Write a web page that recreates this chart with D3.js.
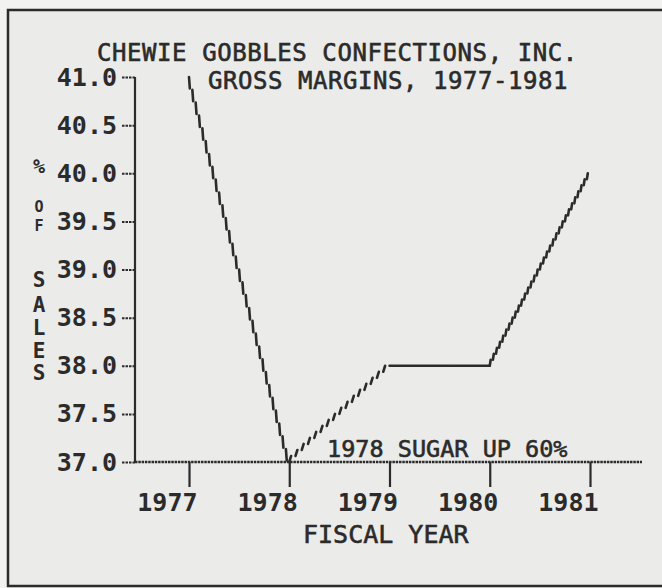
<!DOCTYPE html>
<html>
<head>
<meta charset="utf-8">
<script src="https://cdn.jsdelivr.net/npm/d3@7"></script>
<style>
  html, body { margin: 0; padding: 0; background: #f2f2f1; }
  svg { display: block; }
  text { font-family: "DejaVu Sans Mono", "Liberation Mono", monospace; fill: #2b2b2b; }
</style>
</head>
<body>
<svg id="chart" width="662" height="588"></svg>
<script>
// Gross margin, % of sales, by fiscal year
const years = [1977, 1978, 1979, 1980, 1981];
const margins = [41.0, 37.0, 38.0, 38.0, 40.0];
const yTickValues = [37.0, 37.5, 38.0, 38.5, 39.0, 39.5, 40.0, 40.5, 41.0];
const titleLines = ["CHEWIE GOBBLES CONFECTIONS, INC.", "GROSS MARGINS, 1977-1981"];
const xTitle = "FISCAL YEAR";
const yTitleChars = ["%", "O", "F", "S", "A", "L", "E", "S"];
const note = "1978 SUGAR UP 60%";

const ink = "#2b2b2b";
const svg = d3.select("#chart");

// framed panel
svg.append("rect")
  .attr("x", 8).attr("y", 10).attr("width", 720).attr("height", 576)
  .attr("fill", "#ebebea").attr("stroke", ink).attr("stroke-width", 2.5);

const x = d3.scaleLinear().domain([1977, 1981]).range([189, 590]);
const y = d3.scaleLinear().domain([37, 41]).range([462, 77]);
const axisX = 135;
const axisEnd = 642;

// title, set on a fixed character pitch
const pitch = 15.1;
svg.append("g").selectAll("text")
  .data(titleLines)
  .join("text")
  .attr("x", (d, i) => i === 0 ? 97 : 208)
  .attr("y", (d, i) => i === 0 ? 61 : 89)
  .attr("font-size", 24)
  .attr("textLength", d => d.length * pitch - 3)
  .attr("lengthAdjust", "spacing")
  .attr("stroke", ink).attr("stroke-width", 0.6)
  .text(d => d);

// y axis
const yAxis = svg.append("g")
  .attr("transform", `translate(${axisX},0)`)
  .call(d3.axisLeft(y).tickValues(yTickValues).tickFormat(d3.format(".1f"))
    .tickSize(14).tickPadding(4));
yAxis.select(".domain").remove();
yAxis.selectAll(".tick line").attr("stroke", ink).attr("stroke-width", 2)
  .attr("stroke-dasharray", "2.5,1");
yAxis.selectAll(".tick text")
  .attr("font-size", 25).attr("font-weight", "bold")
  .attr("font-family", "DejaVu Sans Mono").attr("fill", ink);
svg.append("line")
  .attr("x1", axisX).attr("x2", axisX)
  .attr("y1", y(41)).attr("y2", y(37))
  .attr("stroke", ink).attr("stroke-width", 2.2);

// x axis
const xAxis = svg.append("g")
  .attr("transform", `translate(0,${y(37)})`)
  .call(d3.axisBottom(x).tickValues(years).tickFormat(d3.format("d"))
    .tickSize(25).tickPadding(0));
xAxis.select(".domain").remove();
xAxis.selectAll(".tick line").attr("stroke", ink).attr("stroke-width", 2.2);
xAxis.selectAll(".tick text")
  .attr("font-size", 25).attr("font-weight", "bold")
  .attr("font-family", "DejaVu Sans Mono").attr("fill", ink)
  .attr("text-anchor", "end").attr("x", 8).attr("y", 49).attr("dy", 0);
svg.append("line")
  .attr("x1", axisX).attr("x2", axisEnd)
  .attr("y1", y(37)).attr("y2", y(37))
  .attr("stroke", ink).attr("stroke-width", 2.4)
  .attr("stroke-dasharray", "2.5,0.8");

// axis titles
svg.append("text")
  .attr("x", 303).attr("y", 543)
  .attr("font-size", 25).attr("stroke", ink).attr("stroke-width", 0.6)
  .text(xTitle);

const yTitleY = [173, 212, 231, 287, 312, 335, 358, 380];
const yTitleSize = [20, 15, 15, 21, 21, 21, 21, 21];
svg.append("g").selectAll("text")
  .data(yTitleChars)
  .join("text")
  .attr("x", 39).attr("y", (d, i) => yTitleY[i])
  .attr("text-anchor", "middle")
  .attr("font-size", (d, i) => yTitleSize[i])
  .attr("font-weight", "bold")
  .text(d => d);

// annotation
svg.append("text")
  .attr("x", 327).attr("y", 457)
  .attr("font-size", 23.5).attr("stroke", ink).attr("stroke-width", 0.6)
  .text(note);

// the margin line, drawn with pen-plotter style strokes
const pts = years.map((yr, i) => [x(yr), y(margins[i])]);
const lineG = svg.append("g")
  .attr("stroke", ink).attr("stroke-width", 2.6)
  .attr("stroke-linecap", "round").attr("fill", "none");

for (let s = 0; s < pts.length - 1; s++) {
  const [x0, y0] = pts[s];
  const [x1, y1] = pts[s + 1];
  const dx = x1 - x0, dy = y1 - y0;
  if (Math.abs(dy) < 1) {
    lineG.append("line")
      .attr("x1", x0).attr("y1", y0).attr("x2", x1).attr("y2", y1)
      .attr("stroke-width", 2.4)
      .attr("stroke-dasharray", "2.5,1");
    continue;
  }
  const steep = Math.abs(dy) / Math.abs(dx) > 3;
  const h = steep ? 13 : 6;
  const n = Math.max(1, Math.round(Math.abs(dy) / h));
  const segs = d3.range(n).map(i => {
    const xa = x0 + dx * i / n;
    const ya = y0 + dy * i / n;
    const yb = y0 + dy * (i + 1) / n;
    const xb = xa + (dx / n) * (steep ? 0.25 : 0.3);
    return [[xa, ya], [xb, yb - (steep ? Math.sign(dy) * 1.5 : 0)]];
  });
  lineG.selectAll(null)
    .data(segs)
    .join("line")
    .attr("x1", d => d[0][0]).attr("y1", d => d[0][1])
    .attr("x2", d => d[1][0]).attr("y2", d => d[1][1]);
}
</script>
</body>
</html>
